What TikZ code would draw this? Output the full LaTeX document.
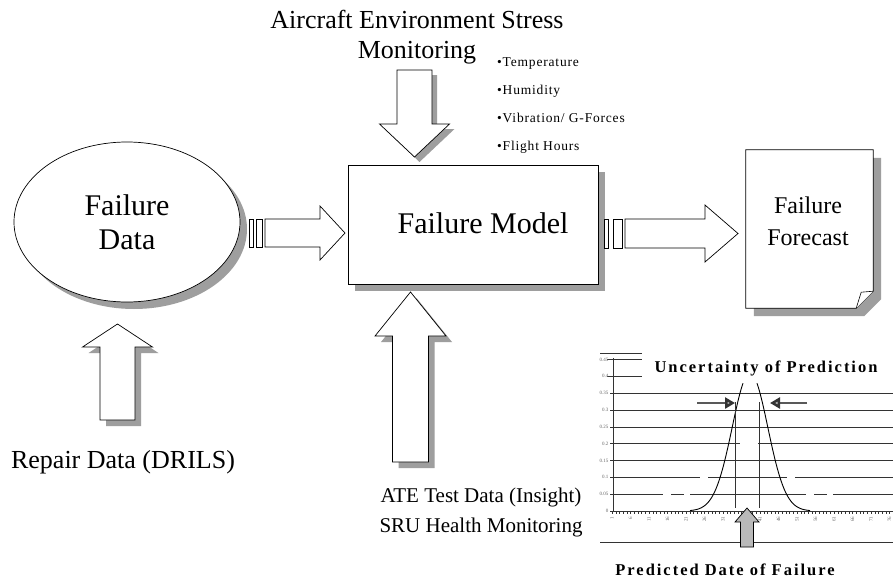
\documentclass[tikz,border=0pt]{standalone}
\usepackage{fontspec}
\setmainfont{Liberation Serif}
\newfontfamily\chartfont[LetterSpace=12]{Liberation Serif}
\newfontfamily\listfont[LetterSpace=6]{Liberation Serif}
\usepackage{tikz}
\usetikzlibrary{shapes, calc, positioning, shadows, arrows.meta}
\definecolor{shadowgray}{gray}{0.62}
\definecolor{pointgray}{gray}{0.35}

% block arrow: [style] {tail} {tip} {shaft half width} {head half width} {head length}
\newcommand{\blockarrow}[6][]{%
	\coordinate (ab) at ($(#3)!#6!(#2)$);
	\draw[blockarrow, #1] ($(#2)!#4!90:(#3)$) -- ($(ab)!#4!90:(#3)$) -- ($(ab)!#5!90:(#3)$) -- (#3)
		-- ($(ab)!#5!-90:(#3)$) -- ($(ab)!#4!-90:(#3)$) -- ($(#2)!#4!-90:(#3)$) -- cycle;}

\begin{document}
\begin{tikzpicture}[x=1pt, y=-1pt,
	castshadow/.style={drop shadow={shadow xshift=#1, shadow yshift=-#1, opacity=1, fill=shadowgray}},
	castshadow/.default=7pt]
	\tikzstyle{blockarrow}=[draw=black, line width=0.7pt, fill=white]
	\tikzstyle{gridline}=[draw=black!80, line width=0.6pt]
	\tikzstyle{bigtext}=[font=\fontsize{30}{34}\selectfont, align=center]
	\tikzstyle{sidetext}=[font=\fontsize{26}{30}\selectfont, align=center]
	\tikzstyle{charttext}=[font=\chartfont\bfseries\fontsize{16.5}{18}\selectfont]
	\tikzstyle{ticktext}=[font=\fontsize{5}{5}\selectfont, text=black!60, inner sep=0.5pt]
	\tikzstyle{pointer}=[draw=pointgray, line width=2.6pt, -{Triangle[length=10pt, width=11pt, fill=gray!55, color=black!80]}]
	
	\fill[white] (0,0) rectangle (893,586);
	\useasboundingbox (0,0) rectangle (893,586);
	
	% main blocks
	\node (fdata) at (127,222) [ellipse, draw, line width=0.7pt, fill=white, minimum width=226pt, minimum height=160pt, castshadow, bigtext] {Failure\\Data};
	\node (model) at (473,224.5) [draw, line width=0.8pt, fill=white, minimum width=250pt, minimum height=119pt, castshadow] {};
	\node (modeltxt) at (483,223) [bigtext] {Failure Model};
	
	\node (forecast) at (809.5,229) [minimum width=127pt, minimum height=158pt, inner sep=0pt] {};
	\draw[line width=0.7pt, fill=white, castshadow=8pt] (forecast.north west) -- (forecast.north east) -- ($(forecast.south east)+(0,-17)$)
		-- ($(forecast.south east)+(-17,0)$) -- (forecast.south west) -- cycle;
	\draw[line width=0.6pt, fill=white] ($(forecast.south east)+(-17,0)$) -- ($(forecast.south east)+(-12,-16)$) -- ($(forecast.south east)+(0,-17)$);
	\node (forecasttxt) at (808,221) [font=\fontsize{24}{32}\selectfont, align=center] {Failure\\Forecast};
	
	% flow arrows
	\coordinate (dtail) at (265,233);
	\coordinate (dtip) at (345,233);
	\draw[blockarrow] ($(dtail)+(-16,-14)$) rectangle ($(dtail)+(-12,14)$);
	\draw[blockarrow] ($(dtail)+(-9,-14)$) rectangle ($(dtail)+(-3,14)$);
	\blockarrow{dtail}{dtip}{14pt}{27pt}{25pt}
	
	\coordinate (mtail) at (625,233.5);
	\coordinate (mtip) at (738,233.5);
	\draw[blockarrow] ($(mtail)+(-21,-14.5)$) rectangle ($(mtail)+(-17,14.5)$);
	\draw[blockarrow] ($(mtail)+(-12,-14.5)$) rectangle ($(mtail)+(-3,14.5)$);
	\blockarrow{mtail}{mtip}{14.5pt}{28.5pt}{33pt}
	
	\coordinate (stail) at (414.5,70);
	\coordinate (stip) at (414.5,157);
	\blockarrow[castshadow=5pt]{stail}{stip}{17.5pt}{35pt}{33pt}
	
	\coordinate (atail) at (410.5,462);
	\coordinate (atip) at (410.5,292);
	\blockarrow[castshadow=6pt]{atail}{atip}{18pt}{35.5pt}{44pt}
	
	\coordinate (rtail) at (117.5,420);
	\coordinate (rtip) at (117.5,324);
	\blockarrow[castshadow=6pt]{rtail}{rtip}{17.5pt}{35pt}{23pt}
	
	% labels
	\node (stress) at (417,37) [sidetext] {Aircraft Environment Stress\\Monitoring};
	\node (stresslist) at (497,106) [anchor=west, align=left, inner sep=0pt, font=\listfont\fontsize{13.5}{28}\selectfont] {•Temperature\\•Humidity\\•Vibration/ G-Forces\\•Flight Hours};
	\node (repair) at (123,462) [sidetext] {Repair Data (DRILS)};
	\node (ate) at (481,512) [font=\fontsize{21}{30}\selectfont, align=center] {ATE Test Data (Insight)\\SRU Health Monitoring};
	
	% prediction chart
	\draw[gridline] (600,353) -- (642,353);
	\draw[gridline] (600,542) -- (893,542);
	\foreach \v in {0.15,0.25,0.3,0.35}
		\draw[gridline] (613,{511-336.7*\v}) -- (893,{511-336.7*\v});
	\foreach \v in {0.4,0.45}
		\draw[gridline] (607,{511-336.7*\v}) -- (642,{511-336.7*\v});
	\draw[gridline] (613,443.7) -- (740,443.7) (758,443.7) -- (893,443.7);
	\draw[gridline] (613,477.3) -- (700,477.3) (708,477.3) -- (787,477.3) (795,477.3) -- (893,477.3);
	\draw[gridline] (613,494.2) -- (663,494.2) (671,494.2) -- (684,494.2) (690,494.2) -- (806,494.2)
		(814,494.2) -- (827,494.2) (833,494.2) -- (893,494.2);
	\draw[gridline] (613,358) -- (613,511) -- (893,511);
	\foreach \v/\t in {0/0, 0.05/0.05, 0.1/0.1, 0.15/0.15, 0.2/0.2, 0.25/0.25, 0.3/0.3, 0.35/0.35, 0.4/0.4, 0.45/0.45} {
		\draw[gridline, line width=0.4pt] (610,{511-336.7*\v}) -- (613,{511-336.7*\v});
		\node (yl\t) at (609,{511-336.7*\v}) [ticktext, anchor=east] {\t};
	}
	\foreach \u in {1,...,77}
		\draw[gridline, line width=0.4pt] ({612+(\u-1)*3.7},511) -- ++(0,3);
	\foreach \u in {1,6,...,76}
		\node (xl\u) at ({612+(\u-1)*3.7},516) [ticktext, rotate=90, anchor=east] {\u};
	
	\draw[line width=0.9pt] plot[domain=-60:-7, samples=50, smooth, variable=\dx] ({750+\dx},{511-138*exp(-(\dx*\dx)/634)});
	\draw[line width=0.9pt] plot[domain=7:60, samples=50, smooth, variable=\dx] ({750+\dx},{511-138*exp(-(\dx*\dx)/634)});
	\draw[gridline] (735,402) -- (735,508) (759,402) -- (759,508);
	
	\coordinate (lp0) at (697,403);
	\coordinate (lp1) at (735,403);
	\coordinate (rp0) at (807,403);
	\coordinate (rp1) at (770,403);
	\draw[pointer] (lp0) -- (lp1);
	\draw[pointer] (rp0) -- (rp1);
	
	\coordinate (ptail) at (747,547);
	\coordinate (ptip) at (747,508);
	\blockarrow[fill=gray!55]{ptail}{ptip}{6.5pt}{12pt}{14pt}
	
	\node (unc) at (766,368) [charttext] {Uncertainty of Prediction};
	\node (pdate) at (725,570) [charttext] {Predicted Date of Failure};
	
\end{tikzpicture}
\end{document}
